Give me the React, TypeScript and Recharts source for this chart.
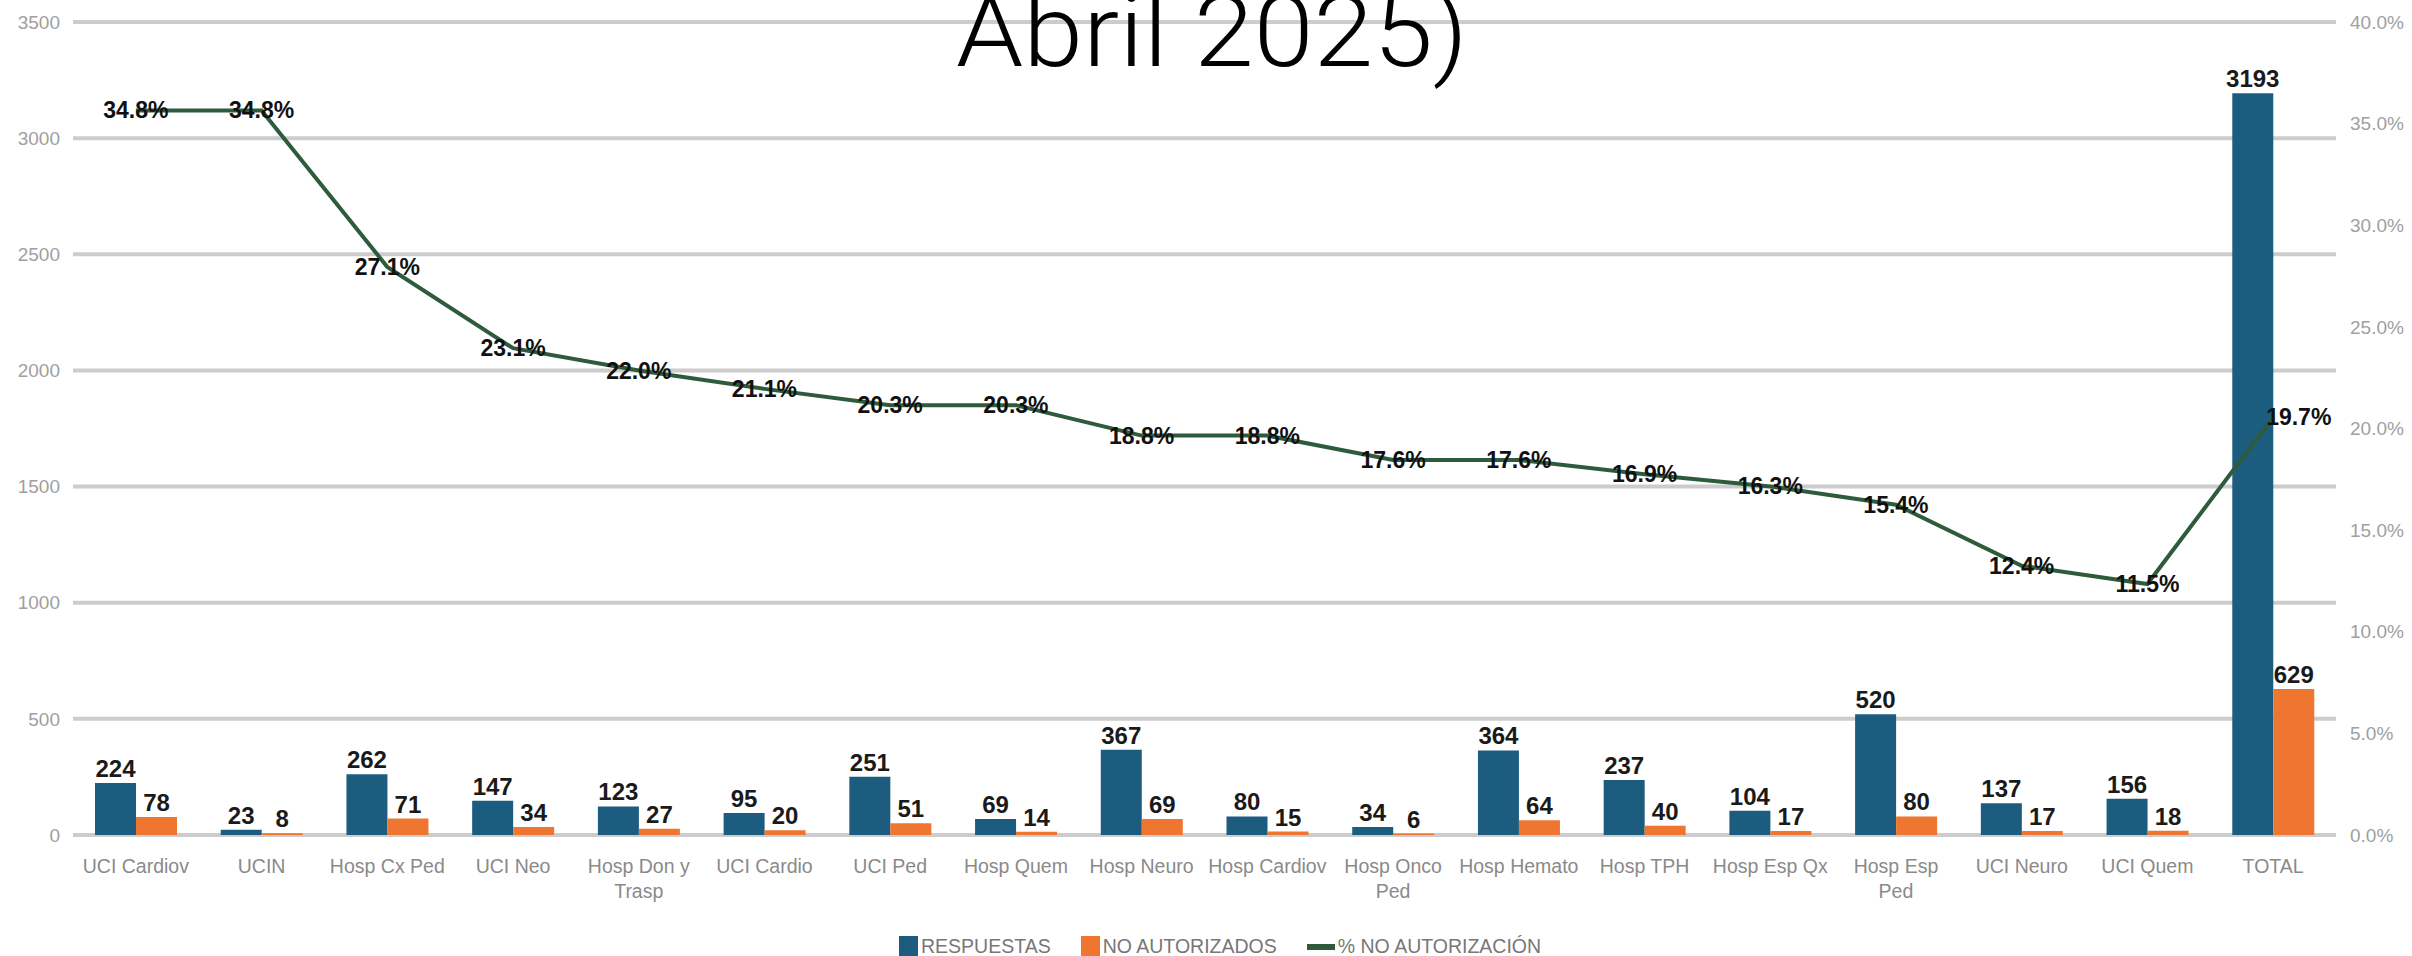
import React from "react";
import {
  ComposedChart,
  Bar,
  Line,
  XAxis,
  YAxis,
  CartesianGrid,
  LabelList,
} from "recharts";

const CATEGORIES = [
  "UCI Cardiov",
  "UCIN",
  "Hosp Cx Ped",
  "UCI Neo",
  "Hosp Don y Trasp",
  "UCI Cardio",
  "UCI Ped",
  "Hosp Quem",
  "Hosp Neuro",
  "Hosp Cardiov",
  "Hosp Onco Ped",
  "Hosp Hemato",
  "Hosp TPH",
  "Hosp Esp Qx",
  "Hosp Esp Ped",
  "UCI Neuro",
  "UCI Quem",
  "TOTAL",
];

// tick labels, with the line breaks seen in the picture
const TICK_LABELS = [
  "UCI Cardiov",
  "UCIN",
  "Hosp Cx Ped",
  "UCI Neo",
  "Hosp Don y\nTrasp",
  "UCI Cardio",
  "UCI Ped",
  "Hosp Quem",
  "Hosp Neuro",
  "Hosp Cardiov",
  "Hosp Onco\nPed",
  "Hosp Hemato",
  "Hosp TPH",
  "Hosp Esp Qx",
  "Hosp Esp\nPed",
  "UCI Neuro",
  "UCI Quem",
  "TOTAL",
];

const RESPUESTAS = [224, 23, 262, 147, 123, 95, 251, 69, 367, 80, 34, 364, 237, 104, 520, 137, 156, 3193];
const NO_AUTORIZADOS = [78, 8, 71, 34, 27, 20, 51, 14, 69, 15, 6, 64, 40, 17, 80, 17, 18, 629];
const PCT_NO_AUT = [
  0.348, 0.348, 0.271, 0.231, 0.22, 0.211, 0.203, 0.203, 0.188, 0.188, 0.176,
  0.176, 0.169, 0.163, 0.154, 0.124, 0.115, 0.197,
];

const LEFT_TICKS = [0, 500, 1000, 1500, 2000, 2500, 3000, 3500];
const RIGHT_TICKS = [0, 0.05, 0.1, 0.15, 0.2, 0.25, 0.3, 0.35, 0.4];

const BLUE = "#1c5d7f";
const ORANGE = "#ee7631";
const GREEN = "#2e5b3c";
const FONT = "'Liberation Sans', Arial, sans-serif";

const data = CATEGORIES.map((name, i) => ({
  name,
  respuestas: RESPUESTAS[i],
  noAut: NO_AUTORIZADOS[i],
  pct: PCT_NO_AUT[i],
}));

const pctFmt = (v: number) => `${(v * 100).toFixed(1)}%`;

const CategoryTick = (props: any) => {
  const { x, y, payload } = props;
  const idx = CATEGORIES.indexOf(payload.value);
  const lines = (TICK_LABELS[idx] ?? payload.value).split("\n");
  return (
    <text x={x} y={y} textAnchor="middle" fill="#8a8a8a" fontSize={19.5} fontFamily={FONT}>
      {lines.map((l: string, i: number) => (
        <tspan key={i} x={x} dy={i === 0 ? 38 : 25}>
          {l}
        </tspan>
      ))}
    </text>
  );
};

const PctLabel = (props: any) => {
  const { x, y, value, index } = props;
  const last = index === CATEGORIES.length - 1;
  return (
    <text
      x={last ? x - 7 : x}
      y={y}
      dy={8}
      textAnchor={last ? "start" : "middle"}
      fill="#111"
      fontSize={23}
      fontWeight="bold"
      fontFamily={FONT}
    >
      {pctFmt(value)}
    </text>
  );
};

const LegendItem: React.FC<{ color: string; label: string; line?: boolean }> = ({ color, label, line }) => (
  <div style={{ display: "flex", alignItems: "center", gap: 3 }}>
    <span
      style={{
        display: "inline-block",
        width: line ? 28 : 19,
        height: line ? 6 : 21,
        backgroundColor: color,
      }}
    />
    <span style={{ fontSize: 19.5, color: "#777", fontFamily: FONT }}>{label}</span>
  </div>
);

export default function App() {
  return (
    <div
      style={{
        position: "absolute",
        left: 0,
        top: 0,
        width: 2412,
        height: 956,
        overflow: "hidden",
        background: "#fff",
      }}
    >
      <ComposedChart
        width={2412}
        height={956}
        data={data}
        margin={{ top: 22, right: 0, bottom: 41, left: 0 }}
        barGap={0}
      >
        <CartesianGrid yAxisId="left" vertical={false} stroke="#cccccc" strokeWidth={4} />
        <XAxis
          dataKey="name"
          interval={0}
          tickLine={false}
          axisLine={false}
          tickSize={0}
          tickMargin={0}
          height={80}
          tick={<CategoryTick />}
        />
        <YAxis
          yAxisId="left"
          width={73}
          domain={[0, 3500]}
          ticks={LEFT_TICKS}
          tickLine={false}
          axisLine={false}
          tickSize={0}
          tickMargin={13}
          tick={{ fill: "#a0a0a0", fontSize: 19, fontFamily: FONT }}
        />
        <YAxis
          yAxisId="right"
          orientation="right"
          width={76}
          type="number"
          domain={[0, 0.4]}
          ticks={RIGHT_TICKS}
          interval={0}
          tickFormatter={pctFmt}
          tickLine={false}
          axisLine={false}
          tickSize={0}
          tickMargin={14}
          tick={{ fill: "#a0a0a0", fontSize: 19, fontFamily: FONT }}
        />
        {/* the % line sits a little higher than the right axis in the source */}
        <YAxis yAxisId="line" hide type="number" domain={[-0.0085, 0.3915]} />
        <Bar yAxisId="left" dataKey="respuestas" fill={BLUE} barSize={41} isAnimationActive={false}>
          <LabelList
            dataKey="respuestas"
            position="top"
            offset={6}
            fill="#1a1a1a"
            fontSize={24}
            fontWeight="bold"
            fontFamily={FONT}
          />
        </Bar>
        <Bar yAxisId="left" dataKey="noAut" fill={ORANGE} barSize={41} isAnimationActive={false}>
          <LabelList
            dataKey="noAut"
            position="top"
            offset={6}
            fill="#1a1a1a"
            fontSize={24}
            fontWeight="bold"
            fontFamily={FONT}
          />
        </Bar>
        {/* invisible series so the right axis has data to draw its ticks */}
        <Line
          yAxisId="right"
          dataKey="pct"
          stroke="none"
          dot={false}
          activeDot={false}
          legendType="none"
          isAnimationActive={false}
        />
        <Line
          yAxisId="line"
          type="linear"
          dataKey="pct"
          stroke={GREEN}
          strokeWidth={4}
          dot={false}
          isAnimationActive={false}
        >
          <LabelList dataKey="pct" content={<PctLabel />} />
        </Line>
      </ComposedChart>

      <svg
        width={2412}
        height={120}
        style={{ position: "absolute", left: 0, top: 0, pointerEvents: "none" }}
      >
        <text
          x={1212}
          y={66}
          textAnchor="middle"
          fontSize={100}
          fontWeight={300}
          fontFamily="Roboto, sans-serif"
          textLength={512}
          lengthAdjust="spacingAndGlyphs"
          fill="#000"
        >
          Abril 2025)
        </text>
      </svg>

      <div
        style={{
          position: "absolute",
          left: 899,
          top: 935,
          display: "flex",
          alignItems: "center",
          gap: 30,
        }}
      >
        <LegendItem color={BLUE} label="RESPUESTAS" />
        <LegendItem color={ORANGE} label="NO AUTORIZADOS" />
        <LegendItem color={GREEN} label="% NO AUTORIZACIÓN" line />
      </div>
    </div>
  );
}
